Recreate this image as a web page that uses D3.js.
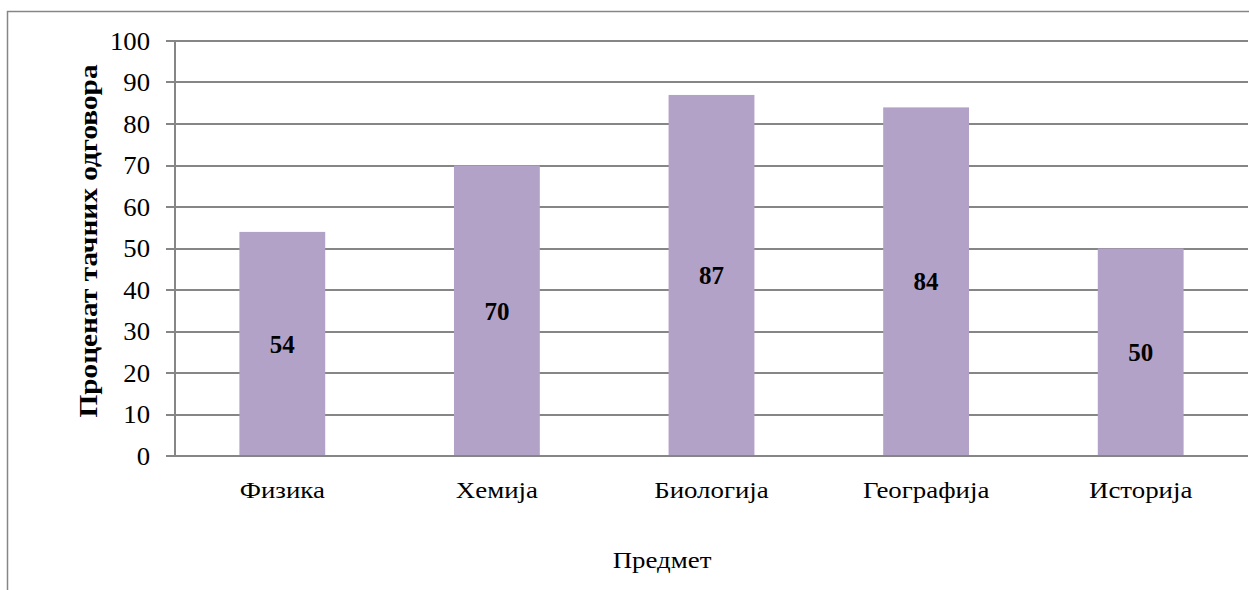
<!DOCTYPE html>
<head>
  <meta charset="utf-8">
  <script src="https://d3js.org/d3.v7.min.js"></script>
  <style>
body { margin:0; background:#fff; }
text { font-family: "Liberation Serif", "Times New Roman", serif; fill:#000; }
.grid line { stroke:#868686; stroke-width:1.5; shape-rendering:crispEdges; }
.axis line { stroke:#868686; stroke-width:1.5; shape-rendering:crispEdges; }
.bar { fill:#b3a2c7; }
  </style>
</head>
<body>
<script>
const subjects = ['Физика', 'Хемија', 'Биологија', 'Географија', 'Историја']
const percents = [54, 70, 87, 84, 50]
const yTicks = [0, 10, 20, 30, 40, 50, 60, 70, 80, 90, 100]

const W = 1249, H = 590
const plot = { left: 175, right: 1248, top: 41, bottom: 456 }

const svg = d3.select('body').append('svg')
  .attr('width', W).attr('height', H)

// chart frame (runs off the right and bottom of the picture)
svg.append('rect')
  .attr('x', 7.5).attr('y', 11.5)
  .attr('width', W + 10).attr('height', H + 10)
  .attr('fill', 'none').attr('stroke', '#868686').attr('stroke-width', 1.5)

const x = d3.scaleBand().domain(subjects).range([plot.left, plot.right])
const y = d3.scaleLinear().domain([0, 100]).range([plot.bottom, plot.top])

// gridlines
svg.append('g').attr('class', 'grid')
  .selectAll('line').data(yTicks.filter(d => d > 0)).enter().append('line')
  .attr('x1', plot.left).attr('x2', plot.right)
  .attr('y1', d => Math.round(y(d))).attr('y2', d => Math.round(y(d)))

const barW = x.bandwidth() * 0.4
svg.selectAll('.bar').data(subjects).enter().append('rect')
  .attr('class', 'bar')
  .attr('x', d => x(d) + (x.bandwidth() - barW) / 2)
  .attr('width', barW)
  .attr('y', (d, i) => y(percents[i]))
  .attr('height', (d, i) => plot.bottom - y(percents[i]))

// y axis: line + tick marks
const axis = svg.append('g').attr('class', 'axis')
axis.append('line')
  .attr('x1', plot.left).attr('x2', plot.left)
  .attr('y1', plot.top).attr('y2', plot.bottom)
axis.selectAll('.tick').data(yTicks).enter().append('line')
  .attr('x1', plot.left - 9).attr('x2', plot.left)
  .attr('y1', d => Math.round(y(d))).attr('y2', d => Math.round(y(d)))
axis.append('line')
  .attr('x1', plot.left).attr('x2', plot.right)
  .attr('y1', plot.bottom).attr('y2', plot.bottom)

// tick labels (source font is a bit wider than Liberation Serif)
svg.selectAll('.ylab').data(yTicks).enter().append('text')
  .attr('class', 'ylab')
  .attr('transform', d => `translate(150,${y(d)}) scale(1.07,1)`)
  .attr('dy', '0.34em')
  .attr('text-anchor', 'end')
  .style('font-size', '25px')
  .text(d => d)

svg.selectAll('.cat').data(subjects).enter().append('text')
  .attr('class', 'cat')
  .attr('transform', d => `translate(${x(d) + x.bandwidth() / 2},498) scale(1.12,1)`)
  .attr('text-anchor', 'middle')
  .style('font-size', '24px')
  .text(d => d)

// value labels in the middle of each bar
svg.selectAll('.val').data(subjects).enter().append('text')
  .attr('class', 'val')
  .attr('x', d => x(d) + x.bandwidth() / 2)
  .attr('y', (d, i) => y(percents[i] / 2))
  .attr('dy', '0.35em')
  .attr('text-anchor', 'middle')
  .style('font-size', '25px').style('font-weight', 'bold')
  .text((d, i) => percents[i])

svg.append('text')
  .attr('transform', 'translate(662,568) scale(1.12,1)')
  .attr('text-anchor', 'middle')
  .style('font-size', '24px')
  .text('Предмет')

svg.append('text')
  .attr('transform', 'translate(97,241) rotate(-90) scale(1.15,1)')
  .attr('text-anchor', 'middle')
  .style('font-size', '25.5px').style('font-weight', 'bold')
  .text('Проценат тачних одговора')
</script>
</body>
